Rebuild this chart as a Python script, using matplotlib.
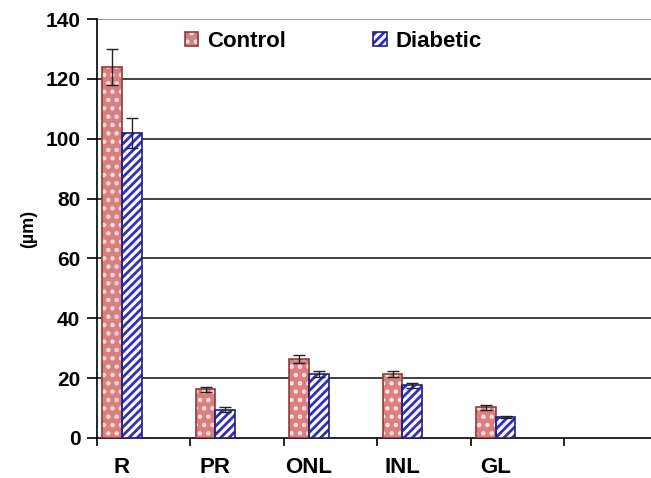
import numpy as np
import matplotlib.pyplot as plt
from matplotlib.patches import Patch

plt.rcParams['font.family'] = ['Liberation Sans', 'DejaVu Sans']
plt.rcParams['font.weight'] = 'bold'
plt.rcParams['hatch.linewidth'] = 2.0

layers = ["R", "PR", "ONL", "INL", "GL"]
control = [124, 16.3, 26.5, 21.5, 10.2]
control_err = [6, 0.9, 1.3, 1.0, 0.7]
diabetic = [102, 9.4, 21.4, 17.6, 7.1]
diabetic_err = [5, 0.8, 0.9, 0.8, 0.3]
yticks = [0, 20, 40, 60, 80, 100, 120, 140]

PINK = '#d97f80'
PINK_EDGE = '#8a3c3c'
BLUE = '#2f2fc4'
BLUE_EDGE = '#20207a'


def main():
    fig = plt.figure(figsize=(6.51, 4.78), dpi=100)
    ax = fig.add_axes([0.149, 0.0837, 0.851, 0.8763])

    x = np.arange(len(layers))
    w = 0.21

    # control: pink fill, white dots, dark outline
    ax.bar(x - w / 2, control, w, color=PINK, edgecolor='none', zorder=3)
    ax.bar(x - w / 2, control, w, facecolor='none', edgecolor='#f4dede',
           hatch='..', linewidth=0, zorder=3)
    ax.bar(x - w / 2, control, w, facecolor='none', edgecolor=PINK_EDGE,
           linewidth=1.2, zorder=4)
    # diabetic: blue stripes on white
    ax.bar(x + w / 2, diabetic, w, facecolor='white', edgecolor=BLUE,
           hatch='////', linewidth=0, zorder=3)
    ax.bar(x + w / 2, diabetic, w, facecolor='none', edgecolor=BLUE_EDGE,
           linewidth=1.2, zorder=4)

    ax.errorbar(x - w / 2, control, yerr=control_err, fmt='none',
                ecolor='#222222', elinewidth=1, capsize=4, capthick=1, zorder=5)
    ax.errorbar(x + w / 2, diabetic, yerr=diabetic_err, fmt='none',
                ecolor='#222222', elinewidth=1, capsize=4, capthick=1, zorder=5)

    ax.set_ylim(0, 140)
    ax.set_xlim(-0.267, 5.66)
    ax.set_yticks(yticks)
    ax.set_yticklabels([str(v) for v in yticks], fontsize=15, fontweight='bold')
    ax.set_xticks(x)
    ax.set_xticklabels(layers, fontsize=16, fontweight='bold')
    ax.tick_params(axis='x', which='major', length=0, pad=14)
    ax.set_xticks(np.arange(6) - 0.267, minor=True)
    ax.tick_params(axis='x', which='minor', length=6, width=1.2, direction='out')
    ax.tick_params(axis='y', length=7, width=1.2, direction='out', pad=5)

    for v in yticks[1:-1]:
        ax.axhline(v, color='#222222', linewidth=1.2, zorder=1)
    ax.axhline(140, color='#999999', linewidth=1.5, zorder=1)

    for s in ['top', 'right']:
        ax.spines[s].set_visible(False)
    ax.spines['left'].set_linewidth(1.2)
    ax.spines['bottom'].set_linewidth(1.2)

    ax.set_ylabel('(µm)', fontsize=13, fontweight='bold', labelpad=6)

    h_control = (Patch(facecolor=PINK, edgecolor='none'),
                 Patch(facecolor='none', edgecolor='#f4dede', hatch='..', linewidth=0),
                 Patch(facecolor='none', edgecolor=PINK_EDGE, linewidth=1.2))
    h_diab = (Patch(facecolor='white', edgecolor=BLUE, hatch='////', linewidth=0),
              Patch(facecolor='none', edgecolor=BLUE_EDGE, linewidth=1.2))
    ax.legend([h_control, h_diab], ['Control', 'Diabetic'], ncol=2,
              frameon=False, loc='upper left', bbox_to_anchor=(0.122, 1.02),
              prop={'size': 16, 'weight': 'bold'}, handlelength=0.6,
              handleheight=0.6, handletextpad=0.4, columnspacing=3.95)

    fig.savefig('out.png', dpi=100)


if __name__ == "__main__":
    main()
